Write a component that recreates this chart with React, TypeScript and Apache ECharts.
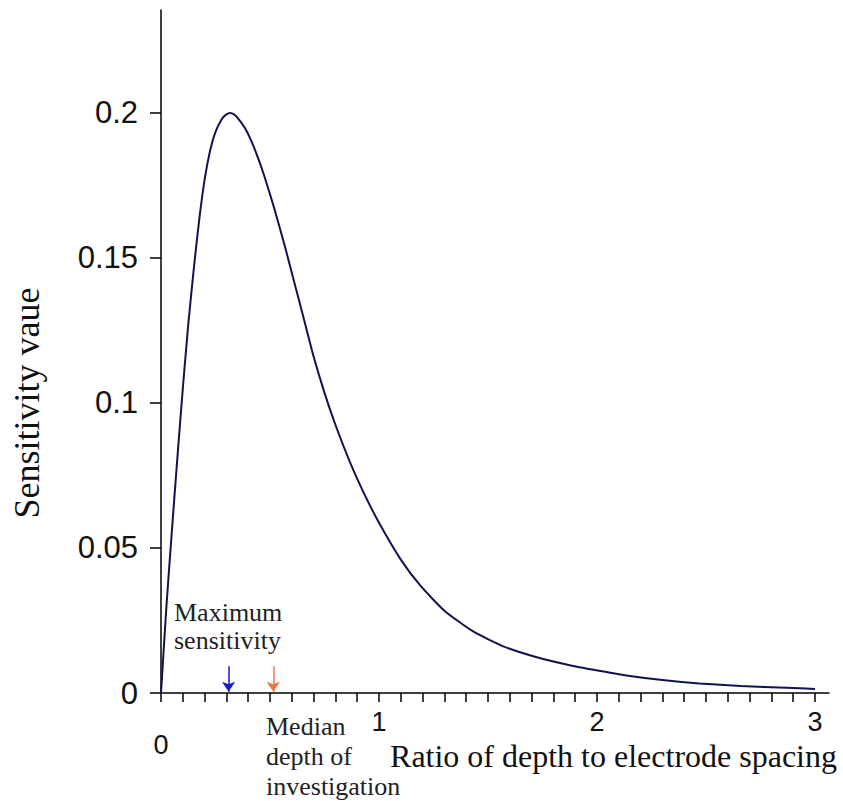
import React, { useEffect, useRef } from "react";
import * as echarts from "echarts";

// Curve
const RATIO = [0, 0.01, 0.025, 0.05, 0.075, 0.1, 0.125, 0.15, 0.175, 0.2, 0.225, 0.25, 0.28, 0.3, 0.317, 0.335, 0.355, 0.385, 0.415, 0.445, 0.475, 0.52, 0.57, 0.61, 0.65, 0.7, 0.75, 0.8, 0.87, 0.93, 1.0, 1.1, 1.19, 1.3, 1.43, 1.57, 1.72, 1.88, 2.03, 2.15, 2.3, 2.47, 2.66, 2.87, 3.0];
const SENSITIVITY = [0, 0.012, 0.03, 0.056, 0.081, 0.105, 0.127, 0.146, 0.163, 0.177, 0.187, 0.1935, 0.198, 0.1995, 0.2, 0.1995, 0.198, 0.1948, 0.1902, 0.1845, 0.178, 0.167, 0.1535, 0.142, 0.1305, 0.116, 0.1035, 0.0925, 0.079, 0.069, 0.0587, 0.046, 0.037, 0.0284, 0.0213, 0.0161, 0.0124, 0.0095, 0.0074, 0.0059, 0.0045, 0.0033, 0.0024, 0.0018, 0.0014];

const X_LABELS = [0, 1, 2, 3];
const X_TICKS = Array.from({ length: 31 }, (_, i) => i / 10);
const Y_TICKS = [0, 0.05, 0.1, 0.15, 0.2];

const MAX_SENS_X = 0.31;
const MEDIAN_X = 0.515;
const ARROW_TOP = 0.0092;
const ARROW_BOTTOM = 0.0004;

export default function App() {
  const ref = useRef<HTMLDivElement>(null);
  useEffect(() => {
    document.body.style.margin = "0";
    const chart = echarts.init(ref.current!, null, { renderer: "svg" });
    const serif = "Liberation Serif";
    const sans = "Liberation Sans";
    chart.setOption({
      animation: false,
      backgroundColor: "#ffffff",
      grid: { left: 161, right: 14, top: 10, bottom: 108, outerBoundsMode: "none", containLabel: false },
      xAxis: {
        type: "value",
        min: 0,
        max: 3.064,
        splitLine: { show: false },
        axisLine: { show: true, onZero: false, lineStyle: { color: "#000", width: 1.5 } },
        axisTick: { show: true, inside: false, length: 9, customValues: X_TICKS, lineStyle: { color: "#000", width: 1.5 } },
        axisLabel: {
          customValues: X_LABELS,
          margin: 15,
          fontFamily: sans,
          fontSize: 27,
          color: "#111",
          formatter: (v: number) => (v === 0 ? "{z|0}" : String(v)),
          rich: { z: { fontFamily: sans, fontSize: 27, color: "#111", padding: [23, 0, 0, 0] } },
        },
      },
      yAxis: {
        type: "value",
        min: 0,
        max: 0.2355,
        splitLine: { show: false },
        axisLine: { show: true, lineStyle: { color: "#000", width: 1.5 } },
        axisTick: { show: true, inside: false, length: 11, customValues: Y_TICKS, lineStyle: { color: "#000", width: 1.5 } },
        axisLabel: {
          customValues: Y_TICKS,
          margin: 23,
          fontFamily: sans,
          fontSize: 31,
          color: "#111",
          formatter: (v: number) => String(v),
        },
      },
      series: [
        {
          type: "line",
          data: RATIO.map((x, i) => [x, SENSITIVITY[i]]),
          smooth: 0.2,
          showSymbol: false,
          lineStyle: { color: "#12124e", width: 2 },
        },
        {
          type: "line",
          data: [],
          markLine: {
            silent: true,
            symbol: ["none", "arrow"],
            symbolSize: 10,
            label: { show: false },
            data: [
              [
                { coord: [MAX_SENS_X, ARROW_TOP], lineStyle: { color: "#1a1ad0", width: 1.5, type: "solid" }, itemStyle: { color: "#1a1ad0" } },
                { coord: [MAX_SENS_X, ARROW_BOTTOM] },
              ],
              [
                { coord: [MEDIAN_X, ARROW_TOP], lineStyle: { color: "#e8784a", width: 1.5, type: "solid" }, itemStyle: { color: "#e8784a" } },
                { coord: [MEDIAN_X, ARROW_BOTTOM] },
              ],
            ],
          },
        },
      ],
      graphic: [
        {
          type: "text",
          x: 27,
          y: 403,
          rotation: Math.PI / 2,
          style: { text: "Sensitivity vaue", fontFamily: serif, fontSize: 36, fill: "#111", align: "center", verticalAlign: "middle" },
        },
        {
          type: "text",
          left: 174,
          top: 598,
          style: { text: "Maximum\nsensitivity", fontFamily: serif, fontSize: 26, lineHeight: 28, fill: "#222" },
        },
        {
          type: "text",
          left: 266,
          top: 711,
          style: { text: "Median\ndepth of\ninvestigation", fontFamily: serif, fontSize: 26, lineHeight: 30, fill: "#222" },
        },
        {
          type: "text",
          right: 6,
          top: 740,
          style: { text: "Ratio of depth to electrode spacing", fontFamily: serif, fontSize: 32, fill: "#111" },
        },
      ],
    });
    return () => chart.dispose();
  }, []);
  return <div ref={ref} style={{ position: "absolute", left: 0, top: 0, width: 843, height: 801 }} />;
}
